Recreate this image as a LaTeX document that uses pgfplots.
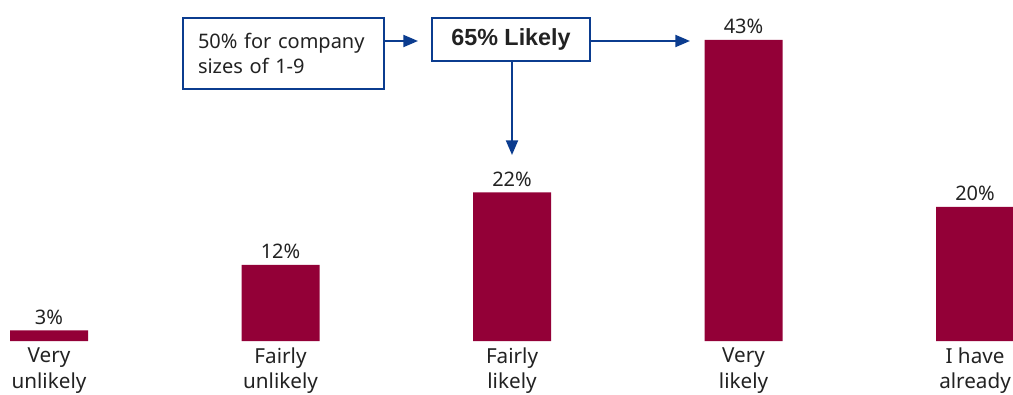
\documentclass[border=0pt]{standalone}
\usepackage{pgfplots}
\pgfplotsset{compat=1.18}
\usepackage{fontspec}
\setmainfont{Noto Sans}
\newfontfamily\boldfam{Liberation Sans}
\usetikzlibrary{arrows.meta}
\definecolor{barred}{HTML}{930037}
\definecolor{annblue}{HTML}{0B3C8F}
\definecolor{txt}{HTML}{222222}
\begin{document}
\begin{tikzpicture}[x=0.75pt,y=0.75pt]
\useasboundingbox (0,0) rectangle (1013,394);
\clip (0,0) rectangle (1013,394);
\begin{axis}[
  at={(0pt,39.75pt)}, anchor=south west,
  scale only axis,
  width=759.75pt, height=255.75pt,
  xmin=-0.2117, xmax=4.164,
  ymin=1.53, ymax=48.5,
  ybar, bar width=58.5pt,
  axis line style={draw=none},
  major tick length=0pt,
  ytick=\empty,
  xtick=data,
  /pgf/number format/assume math mode=true,
  xticklabels={{Very\\unlikely},{Fairly\\unlikely},{Fairly\\likely},{Very\\likely},{I have\\already}},
  xticklabel style={align=center, anchor=north, inner sep=0pt, yshift=-5pt,
    font=\fontsize{15.5}{19}\selectfont, text=txt},
  nodes near coords={\pgfmathprintnumber{\pgfplotspointmeta}\%},
  nodes near coords style={anchor=base, inner sep=0pt, yshift=4.5pt,
    font=\fontsize{15}{18}\selectfont, text=txt},
]
\addplot[fill=barred, draw=none] coordinates {(0,3) (1,12) (2,22) (3,43) (4,20)};
\end{axis}
% annotations
\node[draw=annblue, line width=1.5pt, fill=white, text width=128.25pt, inner xsep=11.25pt,
  minimum height=53.25pt, align=left, text=txt, font=\fontsize{15}{18.5}\selectfont]
  at (283.5,340.5) {50\% for company\\sizes of 1-9};
\node[draw=annblue, line width=1.5pt, fill=white, minimum width=118.5pt,
  minimum height=32.25pt, text=txt, font=\fontsize{17.5}{20}\boldfam\bfseries\selectfont]
  at (511,354.5) {65\% Likely};
\draw[annblue, line width=1.5pt, -{Triangle[length=11pt,width=9pt]}] (385,353) -- (418,353);
\draw[annblue, line width=1.5pt, -{Triangle[length=11pt,width=9pt]}] (590,353) -- (690,353);
\draw[annblue, line width=1.5pt, -{Triangle[length=11pt,width=9pt]}] (512,333) -- (512,239);
\end{tikzpicture}
\end{document}
